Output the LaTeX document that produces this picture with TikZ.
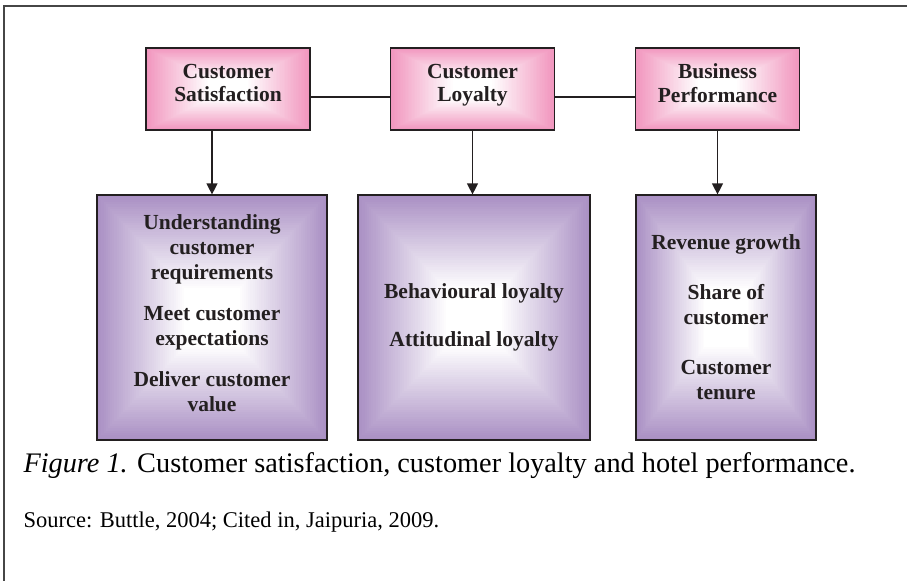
\documentclass[tikz,border=0pt]{standalone}
\usepackage{fontspec}
\setmainfont{Liberation Serif}
\usetikzlibrary{arrows.meta,calc}
\definecolor{pinkedge}{RGB}{241,150,190}
\definecolor{lilacedge}{RGB}{170,144,196}
\definecolor{inkgray}{RGB}{35,31,32}
\definecolor{framegray}{RGB}{70,70,70}
% nested rectangles, edge colour to white in the middle
\newcommand{\glowfill}[1]{%
  \foreach \k [evaluate=\k as \f using \k*0.0095, evaluate=\k as \p using 100-2.5*\k] in {0,...,40}
    \fill[#1!\p!white] ($(path picture bounding box.south west)!\f!(path picture bounding box.north east)$)
      rectangle ($(path picture bounding box.north east)!\f!(path picture bounding box.south west)$);}
\tikzstyle{headbox}=[rectangle, draw=inkgray, line width=1.2pt, fill=pinkedge,
  path picture={\glowfill{pinkedge}}, minimum width=164pt, minimum height=82pt,
  align=center, text=inkgray, font=\fontsize{21.5}{23.5}\selectfont\bfseries]
\tikzstyle{listbox}=[rectangle, draw=inkgray, line width=1.2pt, fill=lilacedge,
  path picture={\glowfill{lilacedge}}, minimum height=245pt,
  align=center, text=inkgray, font=\fontsize{21.5}{25}\selectfont\bfseries]
\tikzstyle{link}=[draw=inkgray, line width=1.2pt]
\tikzstyle{flow}=[link, -{Triangle[width=11pt,length=11pt]}]
\newcommand{\headnode}{\node[headbox]}
\newcommand{\listnode}{\node[listbox]}

\begin{document}
\begin{tikzpicture}[x=1pt, y=-1pt]
\useasboundingbox (0,0) rectangle (907,581);
\draw[framegray, line width=1.6pt] (907,6) -- (4,6) -- (4,581);

\headnode (csat) at (228,89) {Customer\\Satisfaction\\[-11.5pt]\mbox{}};
\headnode (cloy) at (472.5,89) {Customer\\Loyalty\\[-11.5pt]\mbox{}};
\headnode (bperf) at (717.5,89) {Business\\Performance\\[-11.5pt]\mbox{}};

\listnode[minimum width=230pt] (satlist) at (212,317.5)
  {Understanding\\customer\\requirements\\[16pt]Meet customer\\expectations\\[16pt]Deliver customer\\value\\[-17pt]\mbox{}};
\listnode[minimum width=232pt] (loylist) at (474,317.5)
  {Behavioural loyalty\\[23pt]Attitudinal loyalty};
\listnode[minimum width=180pt] (perflist) at (726,317.5)
  {Revenue growth\\[25pt]Share of\\customer\\[25pt]Customer\\tenure};

\path
([yshift=-8pt]csat.east) edge[link] ([yshift=-8pt]cloy.west)
([yshift=-8pt]cloy.east) edge[link] ([yshift=-8pt]bperf.west)
(csat.south -| satlist.north) edge[flow] (satlist.north)
(cloy.south) edge[flow] (cloy.south |- loylist.north)
(bperf.south) edge[flow] (bperf.south |- perflist.north)
;

\node[anchor=base west, font=\fontsize{28.3}{32}\selectfont] (caption) at (20,472)
  {\textit{Figure 1.} Customer satisfaction, customer loyalty and hotel performance.};
\node[anchor=base west, font=\fontsize{22.5}{26}\selectfont] (source) at (20,527)
  {Source: Buttle, 2004; Cited in, Jaipuria, 2009.};
\end{tikzpicture}
\end{document}
